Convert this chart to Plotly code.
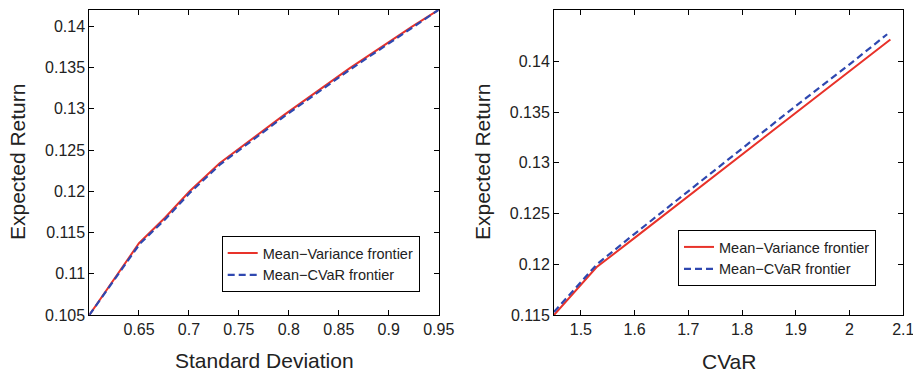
import plotly.graph_objects as go

# ---- data ----
sd_mv = [0.6003, 0.625, 0.650, 0.676, 0.7007, 0.7307, 0.7957, 0.8607, 0.9237, 0.95]
ret_mv_left = [0.105, 0.1094, 0.1137, 0.1168, 0.1200, 0.1234, 0.1293, 0.1349, 0.1400, 0.1420]
sd_cvar = [0.6003, 0.6255, 0.651, 0.677, 0.7017, 0.7317, 0.7967, 0.8617, 0.9247, 0.95]
ret_cvar_left = [0.105, 0.10935, 0.11365, 0.1167, 0.1199, 0.1233, 0.1292, 0.1348, 0.1399, 0.1420]

cvar_mv = [1.45, 1.529, 1.60, 1.70, 1.80, 1.90, 2.00, 2.076]
ret_mv_right = [0.115, 0.1197, 0.1226, 0.1267, 0.1308, 0.1349, 0.1390, 0.14214]
cvar_cv = [1.45, 1.53, 1.60, 1.70, 1.80, 1.90, 2.00, 2.070]
ret_cv_right = [0.1153, 0.1200, 0.1230, 0.1272, 0.1314, 0.1356, 0.1397, 0.14266]

left_xticks = [0.65, 0.7, 0.75, 0.8, 0.85, 0.9, 0.95]
left_xtext = ["0.65", "0.7", "0.75", "0.8", "0.85", "0.9", "0.95"]
left_yticks = [0.105, 0.11, 0.115, 0.12, 0.125, 0.13, 0.135, 0.14]
left_ytext = ["0.105", "0.11", "0.115", "0.12", "0.125", "0.13", "0.135", "0.14"]
right_xticks = [1.5, 1.6, 1.7, 1.8, 1.9, 2.0, 2.1]
right_xtext = ["1.5", "1.6", "1.7", "1.8", "1.9", "2", "2.1"]
right_yticks = [0.115, 0.12, 0.125, 0.13, 0.135, 0.14]
right_ytext = ["0.115", "0.12", "0.125", "0.13", "0.135", "0.14"]

names = ["Mean\u2212Variance frontier", "Mean\u2212CVaR frontier"]

RED = "#e8322a"
BLUE = "#2f48b0"
TXT = "#222222"
FONT = "Liberation Sans, Arial, sans-serif"
W, H = 913, 373

fig = go.Figure()
fig.add_trace(go.Scatter(x=sd_mv, y=ret_mv_left, mode="lines", name=names[0],
                         line=dict(color=RED, width=2), xaxis="x", yaxis="y", legend="legend"))
fig.add_trace(go.Scatter(x=sd_cvar, y=ret_cvar_left, mode="lines", name=names[1],
                         line=dict(color=BLUE, width=2.2, dash="7px,4px"), xaxis="x", yaxis="y", legend="legend"))
fig.add_trace(go.Scatter(x=cvar_mv, y=ret_mv_right, mode="lines", name=names[0],
                         line=dict(color=RED, width=2), xaxis="x2", yaxis="y2", legend="legend2"))
fig.add_trace(go.Scatter(x=cvar_cv, y=ret_cv_right, mode="lines", name=names[1],
                         line=dict(color=BLUE, width=2.2, dash="7px,4px"), xaxis="x2", yaxis="y2", legend="legend2"))

ax = dict(showline=True, mirror="ticks", linecolor="black", linewidth=1,
          ticks="inside", ticklen=5, tickcolor="black", tickwidth=1,
          showgrid=False, zeroline=False, tickfont=dict(size=16, color=TXT, family=FONT),
          tickmode="array", automargin=False, ticklabeloverflow="allow")

ytop = 1 - 9.5 / H
ybot = 1 - 315 / H

fig.update_layout(
    width=W, height=H, margin=dict(l=0, r=0, t=0, b=0, autoexpand=False),
    paper_bgcolor="white", plot_bgcolor="white",
    font=dict(family=FONT, color=TXT),
    xaxis=dict(ax, domain=[89.3 / W, 438.7 / W], range=[0.6003, 0.95],
               tickvals=left_xticks, ticktext=left_xtext, anchor="y"),
    yaxis=dict(ax, domain=[ybot, ytop], range=[0.105, 0.14204],
               tickvals=left_yticks, ticktext=left_ytext, anchor="x"),
    xaxis2=dict(ax, domain=[554 / W, 903.3 / W], range=[1.45, 2.1],
                tickvals=right_xticks, ticktext=right_xtext, anchor="y2"),
    yaxis2=dict(ax, domain=[ybot, ytop], range=[0.115, 0.1451],
                tickvals=right_yticks, ticktext=right_ytext, anchor="x2"),
    legend=dict(x=221.7 / W, y=1 - 264 / H, xanchor="left", yanchor="middle",
                bgcolor="white", bordercolor="black", borderwidth=1,
                font=dict(size=14.5, color=TXT, family=FONT), tracegroupgap=0),
    legend2=dict(x=678 / W, y=1 - 258 / H, xanchor="left", yanchor="middle",
                 bgcolor="white", bordercolor="black", borderwidth=1,
                 font=dict(size=14.5, color=TXT, family=FONT), tracegroupgap=0),
    showlegend=True,
)

ann_font = dict(size=21, color=TXT, family=FONT)
fig.add_annotation(text="Standard Deviation", x=264 / W, y=1 - 360 / H, xref="paper", yref="paper",
                   xanchor="center", yanchor="middle", showarrow=False, font=ann_font)
fig.add_annotation(text="CVaR", x=728.7 / W, y=1 - 361 / H, xref="paper", yref="paper",
                   xanchor="center", yanchor="middle", showarrow=False, font=ann_font)
fig.add_annotation(text="Expected Return", x=17 / W, y=1 - 162 / H, xref="paper", yref="paper",
                   xanchor="center", yanchor="middle", showarrow=False, textangle=-90, font=ann_font)
fig.add_annotation(text="Expected Return", x=482 / W, y=1 - 162 / H, xref="paper", yref="paper",
                   xanchor="center", yanchor="middle", showarrow=False, textangle=-90, font=ann_font)

fig.write_html("out.html", config={"displayModeBar": False},
               post_script="document.body.style.margin='0';document.body.style.overflow='hidden';")
